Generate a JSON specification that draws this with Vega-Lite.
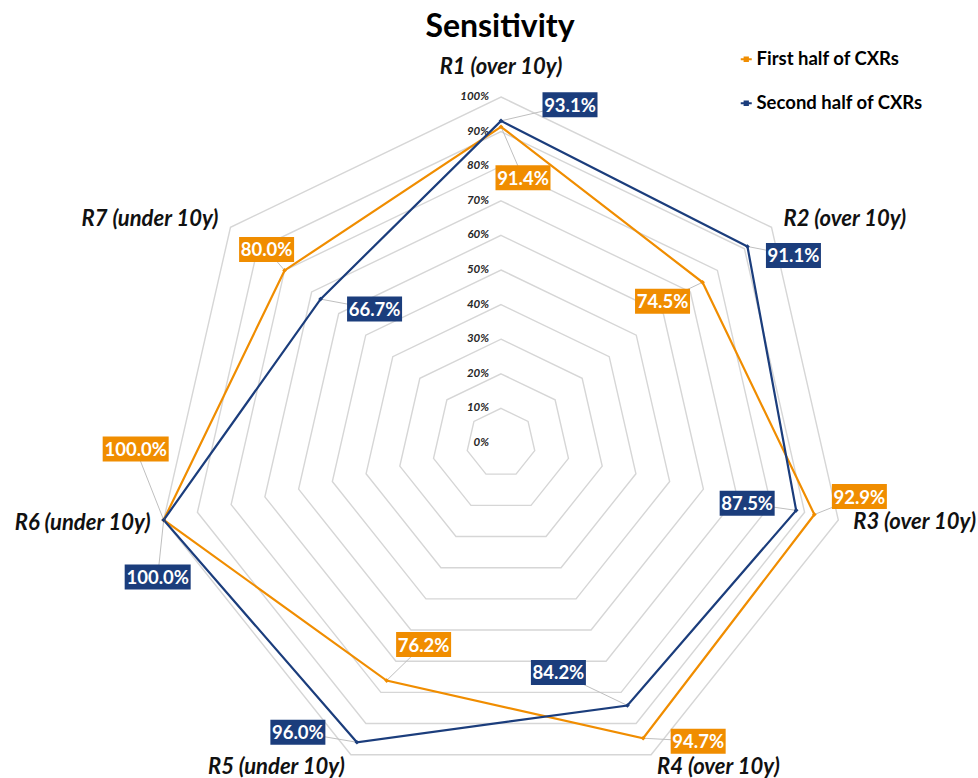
{
  "$schema": "https://vega.github.io/schema/vega-lite/v6.json",
  "width": 978,
  "height": 778,
  "padding": 0,
  "autosize": {"type": "none"},
  "background": "white",
  "title": {"text": "Sensitivity", "font": "Lato", "fontSize": 32, "fontWeight": "bold", "color": "#000000", "anchor": "middle", "frame": "group", "offset": -44, "dx": 11},
  "config": {"view": {"stroke": null}, "font": "Lato"},
  "datasets": {
    "values": [
      {"axis": "R1 (over 10y)", "idx": 0, "series": "First half of CXRs", "value": 0.914},
      {"axis": "R2 (over 10y)", "idx": 1, "series": "First half of CXRs", "value": 0.745},
      {"axis": "R3 (over 10y)", "idx": 2, "series": "First half of CXRs", "value": 0.929},
      {"axis": "R4 (over 10y)", "idx": 3, "series": "First half of CXRs", "value": 0.947},
      {"axis": "R5 (under 10y)", "idx": 4, "series": "First half of CXRs", "value": 0.762},
      {"axis": "R6 (under 10y)", "idx": 5, "series": "First half of CXRs", "value": 1.0},
      {"axis": "R7 (under 10y)", "idx": 6, "series": "First half of CXRs", "value": 0.8},
      {"axis": "R1 (over 10y)", "idx": 0, "series": "Second half of CXRs", "value": 0.931},
      {"axis": "R2 (over 10y)", "idx": 1, "series": "Second half of CXRs", "value": 0.911},
      {"axis": "R3 (over 10y)", "idx": 2, "series": "Second half of CXRs", "value": 0.875},
      {"axis": "R4 (over 10y)", "idx": 3, "series": "Second half of CXRs", "value": 0.842},
      {"axis": "R5 (under 10y)", "idx": 4, "series": "Second half of CXRs", "value": 0.96},
      {"axis": "R6 (under 10y)", "idx": 5, "series": "Second half of CXRs", "value": 1.0},
      {"axis": "R7 (under 10y)", "idx": 6, "series": "Second half of CXRs", "value": 0.667}
    ],
    "levels": [
      {"level": 0.0, "idx": [0, 1, 2, 3, 4, 5, 6]},
      {"level": 0.1, "idx": [0, 1, 2, 3, 4, 5, 6]},
      {"level": 0.2, "idx": [0, 1, 2, 3, 4, 5, 6]},
      {"level": 0.3, "idx": [0, 1, 2, 3, 4, 5, 6]},
      {"level": 0.4, "idx": [0, 1, 2, 3, 4, 5, 6]},
      {"level": 0.5, "idx": [0, 1, 2, 3, 4, 5, 6]},
      {"level": 0.6, "idx": [0, 1, 2, 3, 4, 5, 6]},
      {"level": 0.7, "idx": [0, 1, 2, 3, 4, 5, 6]},
      {"level": 0.8, "idx": [0, 1, 2, 3, 4, 5, 6]},
      {"level": 0.9, "idx": [0, 1, 2, 3, 4, 5, 6]},
      {"level": 1.0, "idx": [0, 1, 2, 3, 4, 5, 6]}
    ]
  },
  "encoding": {
    "x": {"field": "px", "type": "quantitative", "axis": null, "scale": {"domain": [-1.44798, 1.37861], "nice": false, "zero": false}},
    "y": {"field": "py", "type": "quantitative", "axis": null, "scale": {"domain": [-0.96821, 1.28035], "nice": false, "zero": false}}
  },
  "layer": [
    {
      "data": {"name": "levels"},
      "transform": [
        {"flatten": ["idx"]},
        {"calculate": "datum.idx * 2 * PI / 7", "as": "ang"},
        {"calculate": "datum.level * sin(datum.ang)", "as": "px"},
        {"calculate": "datum.level * cos(datum.ang)", "as": "py"}
      ],
      "layer": [
        {
          "transform": [{"filter": "datum.level > 0"}],
          "mark": {"type": "line", "interpolate": "linear-closed", "color": "#d6d6d6", "strokeWidth": 1.4},
          "encoding": {
            "detail": {"field": "level", "type": "nominal"},
            "order": {"field": "idx", "type": "quantitative"}
          }
        },
        {
          "transform": [{"filter": "datum.idx == 0"}],
          "mark": {"type": "text", "align": "right", "baseline": "middle", "dx": -12, "fontSize": 11.5, "fontStyle": "italic", "fontWeight": "bold", "color": "#262626"},
          "encoding": {
            "text": {"field": "level", "type": "quantitative", "format": ".0%"}
          }
        }
      ]
    },
    {
      "data": {"name": "values"},
      "transform": [
        {"calculate": "datum.idx * 2 * PI / 7", "as": "ang"},
        {"calculate": "datum.value * sin(datum.ang)", "as": "px"},
        {"calculate": "datum.value * cos(datum.ang)", "as": "py"}
      ],
      "layer": [
        {
          "mark": {
            "type": "rule", "color": "#bfbfbf", "strokeWidth": 1,
            "x2Offset": {"expr": "datum.series === 'First half of CXRs' ? [22,-40,45,55,37,-28,-18][datum.idx] : [69,46,-49,-69,-59,-6,54][datum.idx]"},
            "y2Offset": {"expr": "datum.series === 'First half of CXRs' ? [51,19,-18,3,-36,-71,-21][datum.idx] : [-16,9,-7,-33,-10,57,10][datum.idx]"}
          },
          "encoding": {
            "x2": {"field": "px"},
            "y2": {"field": "py"}
          }
        },
        {
          "mark": {"type": "line", "interpolate": "linear-closed", "strokeWidth": 2.2},
          "encoding": {
            "color": {
              "field": "series", "type": "nominal",
              "scale": {"domain": ["First half of CXRs", "Second half of CXRs"], "range": ["#F08D00", "#1B3D7C"]},
              "legend": {
                "orient": "none", "legendX": 737, "legendY": 50, "title": null, "padding": 0,
                "labelFont": "Lato", "labelFontSize": 18.5, "labelFontWeight": "bold", "labelColor": "#000000", "labelLimit": 400,
                "symbolType": "M-1,0H1M-0.3,-0.3H0.3V0.3H-0.3Z", "symbolSize": 121, "symbolStrokeWidth": 2,
                "rowPadding": 25, "labelOffset": 1
              }
            },
            "order": {"field": "idx", "type": "quantitative"}
          }
        },
        {
          "mark": {"type": "point", "filled": true, "shape": "diamond", "size": 22, "opacity": 1},
          "encoding": {
            "fill": {
              "field": "series", "type": "nominal",
              "scale": {"domain": ["First half of CXRs", "Second half of CXRs"], "range": ["#F08D00", "#1B3D7C"]},
              "legend": null
            }
          }
        },
        {
          "mark": {
            "type": "rect",
            "xOffset": {"expr": "(datum.series === 'First half of CXRs' ? [22,-40,45,55,37,-28,-18][datum.idx] : [69,46,-49,-69,-59,-6,54][datum.idx]) - (datum.value > 0.999 ? 33 : 27.5)"},
            "x2Offset": {"expr": "(datum.series === 'First half of CXRs' ? [22,-40,45,55,37,-28,-18][datum.idx] : [69,46,-49,-69,-59,-6,54][datum.idx]) + (datum.value > 0.999 ? 33 : 27.5)"},
            "yOffset": {"expr": "(datum.series === 'First half of CXRs' ? [51,19,-18,3,-36,-71,-21][datum.idx] : [-16,9,-7,-33,-10,57,10][datum.idx]) - 12.5"},
            "y2Offset": {"expr": "(datum.series === 'First half of CXRs' ? [51,19,-18,3,-36,-71,-21][datum.idx] : [-16,9,-7,-33,-10,57,10][datum.idx]) + 12.5"}
          },
          "encoding": {
            "x2": {"field": "px"},
            "y2": {"field": "py"},
            "fill": {
              "field": "series", "type": "nominal",
              "scale": {"domain": ["First half of CXRs", "Second half of CXRs"], "range": ["#F08D00", "#1B3D7C"]},
              "legend": null
            }
          }
        },
        {
          "mark": {
            "type": "text", "color": "#ffffff", "fontWeight": "bold", "fontSize": 18.5, "align": "center", "baseline": "middle",
            "dx": {"expr": "datum.series === 'First half of CXRs' ? [22,-40,45,55,37,-28,-18][datum.idx] : [69,46,-49,-69,-59,-6,54][datum.idx]"},
            "dy": {"expr": "(datum.series === 'First half of CXRs' ? [51,19,-18,3,-36,-71,-21][datum.idx] : [-16,9,-7,-33,-10,57,10][datum.idx]) + 1"}
          },
          "encoding": {
            "text": {"field": "value", "type": "quantitative", "format": ".1%"}
          }
        },
        {
          "transform": [
            {"filter": "datum.series === 'First half of CXRs'"},
            {"calculate": "sin(datum.ang)", "as": "px"},
            {"calculate": "cos(datum.ang)", "as": "py"}
          ],
          "mark": {
            "type": "text", "fontSize": 22, "fontWeight": "bold", "fontStyle": "italic", "color": "#111111", "baseline": "middle",
            "align": {"expr": "datum.idx == 0 ? 'center' : (datum.idx <= 3 ? 'left' : 'right')"},
            "dx": {"expr": "[0,12,15,6,-6,-13,-12][datum.idx]"},
            "dy": {"expr": "[-30,-8,2,12,12,3,-8][datum.idx]"}
          },
          "encoding": {
            "text": {"field": "axis", "type": "nominal"}
          }
        }
      ]
    }
  ]
}
